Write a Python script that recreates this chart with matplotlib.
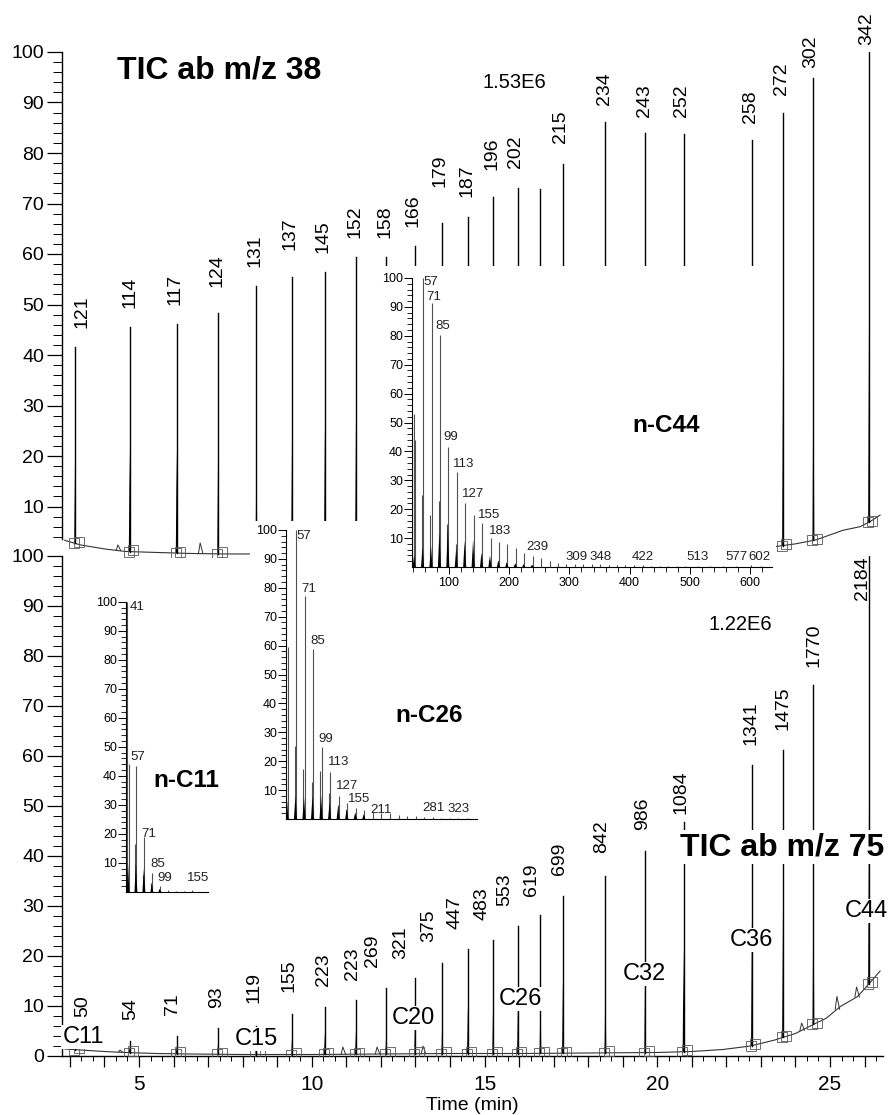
import numpy as np
import matplotlib.pyplot as plt
from matplotlib.patches import Rectangle
from matplotlib.ticker import MultipleLocator, FixedLocator, FuncFormatter, NullLocator

plt.rcParams['font.family'] = ['Liberation Sans', 'DejaVu Sans']

# ---------------- chromatogram data ----------------
# retention times of the n-alkane peaks (min), same for both traces
peak_t = [3.15, 4.73, 6.09, 7.29, 8.40, 9.43, 10.38, 11.28, 12.16, 12.99, 13.78,
          14.52, 15.25, 15.97, 16.62, 17.27, 18.50, 19.65, 20.76, 22.74, 23.64,
          24.52, 26.13]

# TIC ab m/z 38 (upper trace)
top_h = [41.6, 45.5, 46.1, 48.3, 53.7, 55.4, 56.4, 59.4, 59.4, 61.6, 66.1,
         67.3, 71.3, 73.1, 72.9, 77.8, 86.1, 84.0, 83.8, 82.6, 87.9, 94.9, 100]
top_lab = ['121', '114', '117', '124', '131', '137', '145', '152', '158', '166', '179',
           '187', '196', '202', '', '215', '234', '243', '252', '258', '272', '302', '342']
top_lab_t = [3.35, 4.74, 6.04, 7.26, 8.36, 9.37, 10.33, 11.25, 12.12, 12.93, 13.71,
             14.49, 15.22, 15.91, 16.62, 17.21, 18.46, 19.62, 20.69, 22.69, 23.61,
             24.45, 26.07]
top_lab_y = [45.3, 49.3, 49.9, 53.5, 57.4, 60.8, 60.2, 63.2, 63.2, 65.3, 73.3,
             71.3, 76.6, 77.0, 0, 82.0, 89.5, 87.1, 87.1, 85.9, 91.5, 96.8, 101.4]
top_base_t = [2.85, 3.3, 4.0, 4.6, 5.5, 6.5, 7.5, 8.5, 12, 16, 20, 22.5, 23.35,
              24.0, 24.6, 25.38, 25.87, 26.16, 26.45]
top_base_y = [3.3, 2.4, 1.6, 1.1, 0.9, 0.7, 0.6, 0.6, 0.5, 0.6, 0.8, 1.6, 2.0,
              2.6, 3.4, 5.3, 6.0, 7.0, 8.3]
top_small_t = [4.39, 6.77]
top_small_h = [2.4, 2.8]

# TIC ab m/z 75 (lower trace)
bot_h = [3.8, 3.0, 4.0, 5.6, 6.0, 8.4, 9.8, 11.2, 13.6, 15.6, 18.6, 21.4, 23.2,
         26.0, 28.2, 32.0, 36.0, 41.0, 46.8, 58.2, 61.2, 74.2, 100]
bot_lab = ['50', '54', '71', '93', '119', '155', '223', '223', '269', '321', '375',
           '447', '483', '553', '619', '699', '842', '986', '1084', '1341', '1475',
           '1770', '2184']
bot_lab_t = [3.38, 4.77, 5.98, 7.26, 8.33, 9.34, 10.33, 11.17, 11.77, 12.58, 13.39,
             14.15, 14.93, 15.59, 16.35, 17.16, 18.40, 19.59, 20.69, 22.71, 23.64,
             24.54, 25.93]
bot_lab_y = [7.8, 7.2, 8.2, 9.6, 10.6, 12.8, 14.0, 15.2, 17.8, 19.4, 22.8, 25.4,
             27.2, 30.0, 32.0, 36.2, 40.6, 45.2, 48.4, 62.2, 65.2, 77.8, 91.2]
bot_base_t = [2.85, 3.3, 4.0, 4.6, 5.5, 6.5, 8, 10, 12, 14, 16, 18, 20, 21.0, 21.9,
              22.7, 23.4, 24.0, 24.4, 24.9, 25.3, 25.8, 26.2, 26.45]
bot_base_y = [1.4, 1.2, 0.9, 0.7, 0.5, 0.4, 0.3, 0.3, 0.4, 0.5, 0.5, 0.6, 0.7, 0.9,
              1.3, 2.0, 3.2, 4.5, 5.9, 7.6, 9.9, 11.9, 15.0, 17.0]
bot_small_t = [4.45, 10.9, 11.89, 13.22, 24.18, 25.2, 25.77]
bot_small_h = [1.2, 1.8, 1.8, 2.0, 6.6, 11.9, 13.8]
carbon = ['C11', 'C15', 'C20', 'C26', 'C32', 'C36', 'C44']
carbon_t = [3.39, 8.40, 12.95, 16.03, 19.63, 22.73, 26.06]
carbon_y = [2.6, 2.2, 6.4, 10.2, 15.2, 22.0, 27.8]

# ---------------- mass spectra ----------------
c44_mz = [41, 43, 55, 57, 69, 71, 83, 85, 97, 99, 111, 113, 125, 127, 139, 141, 153,
          155, 167, 169, 181, 183, 195, 197, 209, 211, 225, 239, 253, 267, 281, 295,
          309, 323, 337, 351, 365, 379, 393, 407, 422, 436, 450, 464, 478, 492, 513,
          534, 555, 577, 602, 618]
c44_int = [53, 44, 25, 100, 18, 91.3, 23, 80.3, 15, 41.6, 8, 33, 6, 22.1, 5, 18, 3,
           15.1, 2.5, 10, 2, 8.8, 1.5, 8, 1.2, 6.6, 5, 3.8, 3, 2, 1.5, 1.2, 1.2, 1,
           0.9, 0.9, 0.8, 0.7, 0.7, 0.6, 0.6, 0.5, 0.5, 0.5, 0.4, 0.4, 0.5, 0.4, 0.4,
           0.5, 0.6, 0.3]
c44_blob_mz = [42, 56, 70, 84, 98, 112, 126, 140, 154, 168, 182, 196, 210, 224, 238]
c44_blob_h = [4, 7, 7.5, 12, 14, 6.5, 9, 9.5, 5, 4, 2.3, 1.7, 1.3, 1.0, 0.8]
c44_lab = ['57', '71', '85', '99', '113', '127', '155', '183', '239', '309', '348',
           '422', '513', '577', '602']
c44_lab_x = [57.3, 63, 76.7, 90.5, 106, 121, 148.7, 167, 229, 292.7, 333, 403.5,
             494.8, 558.5, 597]
c44_lab_y = [96.4, 91.5, 81.4, 42.8, 33.6, 23.2, 16.0, 10.3, 4.7, 1.3, 1.3, 1.3,
             1.3, 1.3, 1.3]

c26_mz = [41, 43, 55, 57, 69, 71, 83, 85, 97, 99, 111, 113, 125, 127, 139, 141, 155,
          169, 183, 197, 211, 225, 239, 253, 267, 281, 295, 309, 323, 337]
c26_int = [14, 59.5, 25.4, 100, 17.3, 77, 12.7, 58.8, 16.7, 24.8, 9, 16.1, 5, 8, 3,
           5.5, 3.8, 3, 2.5, 2, 2.2, 1.5, 1.2, 1, 0.8, 0.6, 0.5, 0.4, 0.5, 0.3]
c26_blob_mz = [42, 56, 70, 84, 98, 112, 126, 140, 154, 168]
c26_blob_h = [7, 8, 7.5, 8, 8, 5.8, 4.6, 3.5, 2.3, 1.7]
c26_lab = ['57', '71', '85', '99', '113', '127', '155', '211', '281', '323']
c26_lab_x = [58.0, 66.2, 79.8, 93.5, 108.9, 122.5, 142.6, 178.2, 263.5, 304.5]
c26_lab_y = [96, 77.5, 59.6, 25.6, 17.6, 9.4, 4.8, 1.2, 1.7, 1.4]

c11_mz = [41, 43, 55, 57, 69, 71, 83, 85, 97, 99, 113, 127, 141, 155]
c11_int = [100, 44, 16.7, 43.3, 6, 19, 3, 6.5, 1.2, 2, 0.8, 0.5, 0.4, 0.6]
c11_blob_mz = [42, 56, 70, 84, 98]
c11_blob_h = [10, 10, 8, 3, 1]
c11_lab = ['41', '57', '71', '85', '99', '155']
c11_lab_x = [45.5, 46.8, 66.2, 82, 93.7, 145.4]
c11_lab_y = [96, 44.3, 17.9, 7.6, 2.8, 2.8]

W, H = 891, 1115
fig = plt.figure(figsize=(W / 100, H / 100), dpi=100)


def px_rect(x0, y0, x1, y1):
    # pixel box (top-left origin) -> figure fraction rect
    return [x0 / W, 1 - y1 / H, (x1 - x0) / W, (y1 - y0) / H]


ax_top = fig.add_axes(px_rect(62, 52, 883, 557))
ax_bot = fig.add_axes(px_rect(62, 556, 883, 1056))

for ax in (ax_top, ax_bot):
    ax.set_facecolor('none')
    ax.set_xlim(2.771, 26.534)
    ax.set_ylim(0, 100)
    ax.spines['top'].set_visible(False)
    ax.spines['right'].set_visible(False)
    ax.spines['left'].set_linewidth(1.0)
    ax.spines['bottom'].set_linewidth(1.0)
    ax.tick_params(axis='y', which='major', direction='out', length=11, width=0.9,
                   labelsize=14, pad=2)
    ax.tick_params(axis='y', which='minor', direction='out', length=6.5, width=0.7)


def draw_trace(ax, base_t, base_y, heights, small_t, small_h):
    ax.plot(base_t, base_y, color='#333333', lw=0.8, zorder=2)
    for t, h in zip(small_t, small_h):
        b = np.interp(t, base_t, base_y)
        ax.plot([t - 0.05, t, t + 0.08], [b, h, b], color='#333333', lw=0.7, zorder=2)
    for t, h in zip(peak_t, heights):
        b = np.interp(t, base_t, base_y)
        # thin spike, slightly wider near the base
        ax.fill([t - 0.025, t, t + 0.025], [b, b + 0.45 * (h - b), b], color='black',
                lw=0, zorder=3)
        ax.plot([t, t], [b, h], color='black', lw=1.0, zorder=3)
        ax.plot([t - 0.03, t + 0.1], [b, b + 0.3], ls='none', marker='s', ms=6.5,
                mfc='none', mec='#555555', mew=0.6, zorder=4)


draw_trace(ax_top, top_base_t, top_base_y, top_h, top_small_t, top_small_h)
for lab, t, y in zip(top_lab, top_lab_t, top_lab_y):
    if lab:
        ax_top.text(t, y, lab, rotation=90, ha='center', va='bottom', fontsize=14)

ax_top.spines['bottom'].set_visible(False)
ax_top.spines['left'].set_bounds(3.5, 100)
ax_top.tick_params(axis='x', which='both', bottom=False, labelbottom=False)
ax_top.yaxis.set_major_locator(FixedLocator(range(10, 101, 10)))
ax_top.yaxis.set_minor_locator(FixedLocator([v for v in range(4, 100, 2) if v % 10]))
ax_top.text(4.363, 94.85, 'TIC ab m/z 38', fontsize=23, fontweight='bold',
            ha='left', va='baseline')
ax_top.text(14.93, 92.9, '1.53E6', fontsize=14.5, ha='left', va='baseline')

draw_trace(ax_bot, bot_base_t, bot_base_y, bot_h, bot_small_t, bot_small_h)
for lab, t, y in zip(bot_lab, bot_lab_t, bot_lab_y):
    ax_bot.text(t, y, lab, rotation=90, ha='center', va='bottom', fontsize=14)
for lab, t, y in zip(carbon, carbon_t, carbon_y):
    ax_bot.text(t, y, lab, ha='center', va='baseline', fontsize=17, zorder=6,
                bbox=dict(boxstyle='square,pad=0.05', facecolor='white', edgecolor='none'))

ax_bot.yaxis.set_major_locator(FixedLocator(range(0, 101, 10)))
ax_bot.yaxis.set_minor_locator(FixedLocator([v for v in range(2, 100, 2) if v % 10]))
ax_bot.xaxis.set_major_locator(MultipleLocator(1))
ax_bot.xaxis.set_minor_locator(MultipleLocator(1 / 3))
ax_bot.xaxis.set_major_formatter(FuncFormatter(
    lambda v, p: '%d' % round(v) if round(v) % 5 == 0 else ''))
ax_bot.tick_params(axis='x', which='major', direction='out', length=7.7, width=0.9,
                   labelsize=15, pad=6)
ax_bot.tick_params(axis='x', which='minor', direction='out', length=3.5, width=0.7)
ax_bot.set_xlabel('Time (min)', fontsize=14, labelpad=2)
ax_bot.text(20.66, 40.2, 'TIC ab m/z 75', fontsize=23, fontweight='bold',
            ha='left', va='baseline', zorder=6,
            bbox=dict(boxstyle='square,pad=0.05', facecolor='white', edgecolor='none'))
ax_bot.text(21.47, 85.2, '1.22E6', fontsize=14.5, ha='left', va='baseline')


def spectrum(box, xlim, mz, inten, blob_mz, blob_h, labs, lab_x, lab_y,
             name, name_xy, white=None, xlabels=False):
    ax = fig.add_axes(px_rect(*box))
    if white is not None:
        ax.add_patch(Rectangle((white[0] / W, 1 - white[3] / H),
                               (white[2] - white[0]) / W, (white[3] - white[1]) / H,
                               transform=fig.transFigure, facecolor='white',
                               edgecolor='none', clip_on=False, zorder=0.5))
    ax.set_xlim(*xlim)
    ax.set_ylim(0, 100)
    ax.vlines(mz, 0, inten, color='#505050', lw=0.8, zorder=2)
    for m, h in zip(blob_mz, blob_h):
        ax.fill([m - 2.5, m, m + 2.5], [0, h, 0], color='black', lw=0, zorder=3)
    for lab, x, y in zip(labs, lab_x, lab_y):
        ax.text(x, y, lab, fontsize=9.5, ha='left', va='bottom', color='#222222')
    ax.text(name_xy[0], name_xy[1], name, fontsize=17.5, fontweight='bold',
            ha='left', va='baseline')
    for s in ('top', 'right'):
        ax.spines[s].set_visible(False)
    ax.spines['left'].set_linewidth(0.8)
    ax.spines['bottom'].set_linewidth(0.8)
    ax.yaxis.set_major_locator(FixedLocator(range(10, 101, 10)))
    ax.yaxis.set_minor_locator(FixedLocator([v for v in range(2, 100, 2) if v % 10]))
    ax.tick_params(axis='y', which='major', direction='out', length=5.5, width=0.7,
                   labelsize=9, pad=1)
    ax.tick_params(axis='y', which='minor', direction='out', length=3.5, width=0.6)
    if xlabels:
        ax.xaxis.set_major_locator(MultipleLocator(100))
        ax.xaxis.set_minor_locator(MultipleLocator(20))
        ax.tick_params(axis='x', which='major', direction='out', length=5, width=0.7,
                       labelsize=9, pad=2)
        ax.tick_params(axis='x', which='minor', direction='out', length=3.5, width=0.6)
    else:
        ax.xaxis.set_major_locator(NullLocator())
        ax.xaxis.set_minor_locator(NullLocator())
    return ax


spectrum((126, 601.7, 208, 892), (38.5, 183), c11_mz, c11_int, c11_blob_mz, c11_blob_h,
         c11_lab, c11_lab_x, c11_lab_y, 'n-C11', (86.1, 36.2))
spectrum((286, 530, 477, 819), (40.5, 353.6), c26_mz, c26_int, c26_blob_mz, c26_blob_h,
         c26_lab, c26_lab_x, c26_lab_y, 'n-C26', (219.2, 33.6),
         white=(250, 521, 480, 826))
spectrum((412, 278, 772, 567), (38.5, 636.5), c44_mz, c44_int, c44_blob_mz, c44_blob_h,
         c44_lab, c44_lab_x, c44_lab_y, 'n-C44', (404, 46.7),
         white=(376, 266, 776, 600), xlabels=True)

fig.savefig('out.png', dpi=100)
